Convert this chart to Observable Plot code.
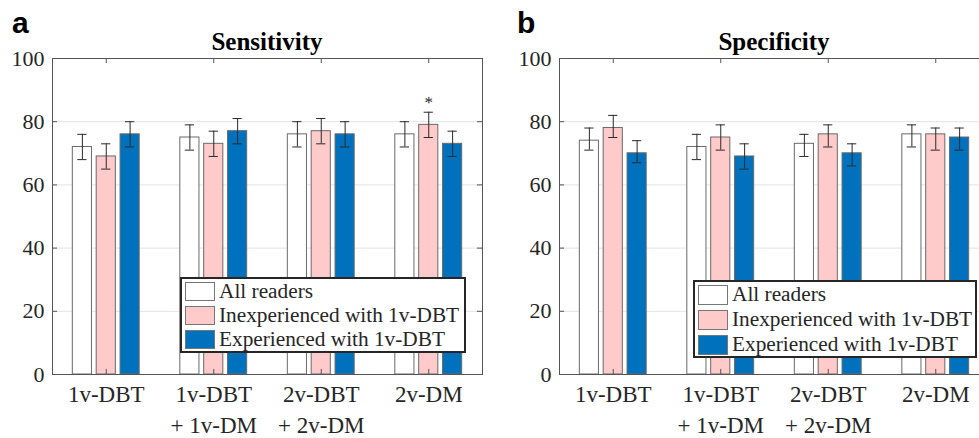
<!DOCTYPE html>
<html><head><meta charset="utf-8">
<script src="https://cdn.jsdelivr.net/npm/d3@7"></script>
<script src="https://cdn.jsdelivr.net/npm/@observablehq/plot@0.6"></script>
<style>
html,body{margin:0;padding:0;background:#fff;overflow:hidden;width:979px;height:438px}
#root{position:relative;width:979px;height:438px;overflow:hidden;font-family:"Liberation Serif","Times New Roman",serif;color:#262626}
.panel{position:absolute;top:0;height:438px}
.panel svg{overflow:visible;max-width:none !important}
.panel svg text{font-family:"Liberation Serif","Times New Roman",serif}
#overlay{position:absolute;left:0;top:0;pointer-events:none}
.legend{position:absolute;border:2px solid #262626;background:#fff;padding:0 0 0 3px;box-sizing:border-box}
.row{display:flex;align-items:center;height:24px;font-size:21.3px;line-height:24px;white-space:nowrap;color:#262626}
#lb .row{height:25px;line-height:25px}
.sw{width:28px;height:17px;border:1px solid #777;margin-right:4px;flex:none}
#lb .sw{height:18px}
</style></head>
<body>
<div id="root">
  <div class="panel" id="pa" style="left:0px;width:490px"></div>
  <div class="panel" id="pb" style="left:500px;width:500px"></div>
  <svg id="overlay" width="979" height="438">
    <text x="12" y="33" font-family="Liberation Sans, Arial, sans-serif" font-weight="bold" font-size="30" fill="#000">a</text>
    <text x="517" y="33" font-family="Liberation Sans, Arial, sans-serif" font-weight="bold" font-size="30" fill="#000">b</text>
    <text id="ta" x="267" y="50" text-anchor="middle" font-family="Liberation Serif, serif" font-weight="bold" font-size="25" fill="#000"></text>
    <text id="tb" x="774" y="50" text-anchor="middle" font-family="Liberation Serif, serif" font-weight="bold" font-size="25" fill="#000"></text>
  </svg>
  <div class="legend" id="la" style="left:180px;top:277px;width:286px;height:76px"></div>
  <div class="legend" id="lb" style="left:693px;top:280px;width:284px;height:78px"></div>
</div>
<script>
// ---- data ----
const panelTitles = ["Sensitivity", "Specificity"];
const categories = ["1v-DBT", "1v-DBT\n+ 1v-DM", "2v-DBT\n+ 2v-DM", "2v-DM"];
const series = ["All readers", "Inexperienced with 1v-DBT", "Experienced with 1v-DBT"];
const seriesColors = ["#ffffff", "#ffcaca", "#0072bd"];
const yTicks = [0, 20, 40, 60, 80, 100];
const gridTicks = [20, 40, 60, 80];

// Sensitivity: rows = categories, columns = series
const sensValue = [[72, 69, 76], [75, 73, 77], [76, 77, 76], [76, 79, 73]];
const sensLow   = [[68, 65, 72], [71, 69, 73], [72, 73, 72], [72, 75, 69]];
const sensHigh  = [[76, 73, 80], [79, 77, 81], [80, 81, 80], [80, 83, 77]];
const sensMarks = [{category: 4, series: 1, label: "*"}];

// Specificity
const specValue = [[74, 78, 70], [72, 75, 69], [73, 76, 70], [76, 76, 75]];
const specLow   = [[71, 75, 67], [68, 71, 65], [69, 72, 66], [72, 71, 71]];
const specHigh  = [[78, 82, 74], [76, 79, 73], [76, 79, 73], [79, 78, 78]];
const specMarks = [];

// ---- layout constants ----
const groupOffset = 0.222;
const halfBar = 0.089;
const capHalf = 0.043;
const tickLenX = 0.047;
const tickLenY = 1.6;
const serif = "Liberation Serif, Times New Roman, serif";

function buildPanel(values, lows, highs, marks, o) {
  const data = [];
  categories.forEach((c, gi) => series.forEach((s, si) => data.push({
    g: gi + 1, s: si, series: s, value: values[gi][si], lo: lows[gi][si], hi: highs[gi][si]
  })));
  const cx = d => d.g + (d.s - 1) * groupOffset;
  const ann = marks.map(m => data.find(d => d.g === m.category && d.s === m.series)).map((d, i) => ({...d, label: marks[i].label}));
  const cats = categories.map((c, i) => i + 1);
  return Plot.plot({
    width: o.width, height: 438,
    marginLeft: o.ml, marginRight: o.mr, marginTop: 58, marginBottom: 64,
    x: {domain: [0.5, 4.5], axis: null},
    y: {domain: [0, 100], axis: null},
    color: {domain: series, range: seriesColors},
    style: {fontFamily: serif, fontSize: "21px", color: "#262626", background: "transparent", overflow: "visible", maxWidth: "none"},
    marks: [
      Plot.ruleY(gridTicks, {y: d => d, stroke: "#e3e3e3", strokeWidth: 1}),
      Plot.rect(data, {x1: d => cx(d) - halfBar, x2: d => cx(d) + halfBar, y1: 0, y2: "value", fill: "series", stroke: "#6a6a6a", strokeWidth: 1}),
      Plot.ruleX(data, {x: cx, y1: "lo", y2: "hi", stroke: "#2a2a2a", strokeWidth: 1}),
      Plot.ruleY(data, {y: "hi", x1: d => cx(d) - capHalf, x2: d => cx(d) + capHalf, stroke: "#2a2a2a", strokeWidth: 1}),
      Plot.ruleY(data, {y: "lo", x1: d => cx(d) - capHalf, x2: d => cx(d) + capHalf, stroke: "#2a2a2a", strokeWidth: 1}),
      // inward ticks
      Plot.ruleY(yTicks, {y: d => d, x1: 0.5, x2: 0.5 + tickLenX, stroke: "#555"}),
      Plot.ruleY(yTicks, {y: d => d, x1: 4.5 - tickLenX, x2: 4.5, stroke: "#555"}),
      Plot.ruleX(cats, {x: d => d, y1: 0, y2: tickLenY, stroke: "#555"}),
      Plot.ruleX(cats, {x: d => d, y1: 100 - tickLenY, y2: 100, stroke: "#555"}),
      Plot.frame({stroke: "#555", strokeWidth: 1}),
      Plot.text(yTicks, {x: 0.5, y: d => d, text: d => String(d), textAnchor: "end", dx: -8, fill: "#262626", fontSize: 22, fontFamily: serif}),
      Plot.text(cats, {x: d => d, y: 0, text: i => categories[i - 1], lineAnchor: "top", dy: 5, lineHeight: 1.35, fill: "#262626", fontSize: 23, fontFamily: serif}),
      Plot.text(ann, {x: cx, y: "hi", text: "label", lineAnchor: "bottom", dy: -4, fill: "#262626", fontSize: 17, fontFamily: serif})
    ]
  });
}

document.getElementById("pa").appendChild(buildPanel(sensValue, sensLow, sensHigh, sensMarks, {width: 490, ml: 52, mr: 8}));
document.getElementById("pb").appendChild(buildPanel(specValue, specLow, specHigh, specMarks, {width: 500, ml: 59, mr: 11}));
document.getElementById("ta").textContent = panelTitles[0];
document.getElementById("tb").textContent = panelTitles[1];

function buildLegend(el) {
  series.forEach((s, i) => {
    const row = document.createElement("div");
    row.className = "row";
    const sw = document.createElement("span");
    sw.className = "sw";
    sw.style.background = seriesColors[i];
    const t = document.createElement("span");
    t.textContent = s;
    row.appendChild(sw); row.appendChild(t);
    el.appendChild(row);
  });
}
buildLegend(document.getElementById("la"));
buildLegend(document.getElementById("lb"));
</script>
</body></html>
